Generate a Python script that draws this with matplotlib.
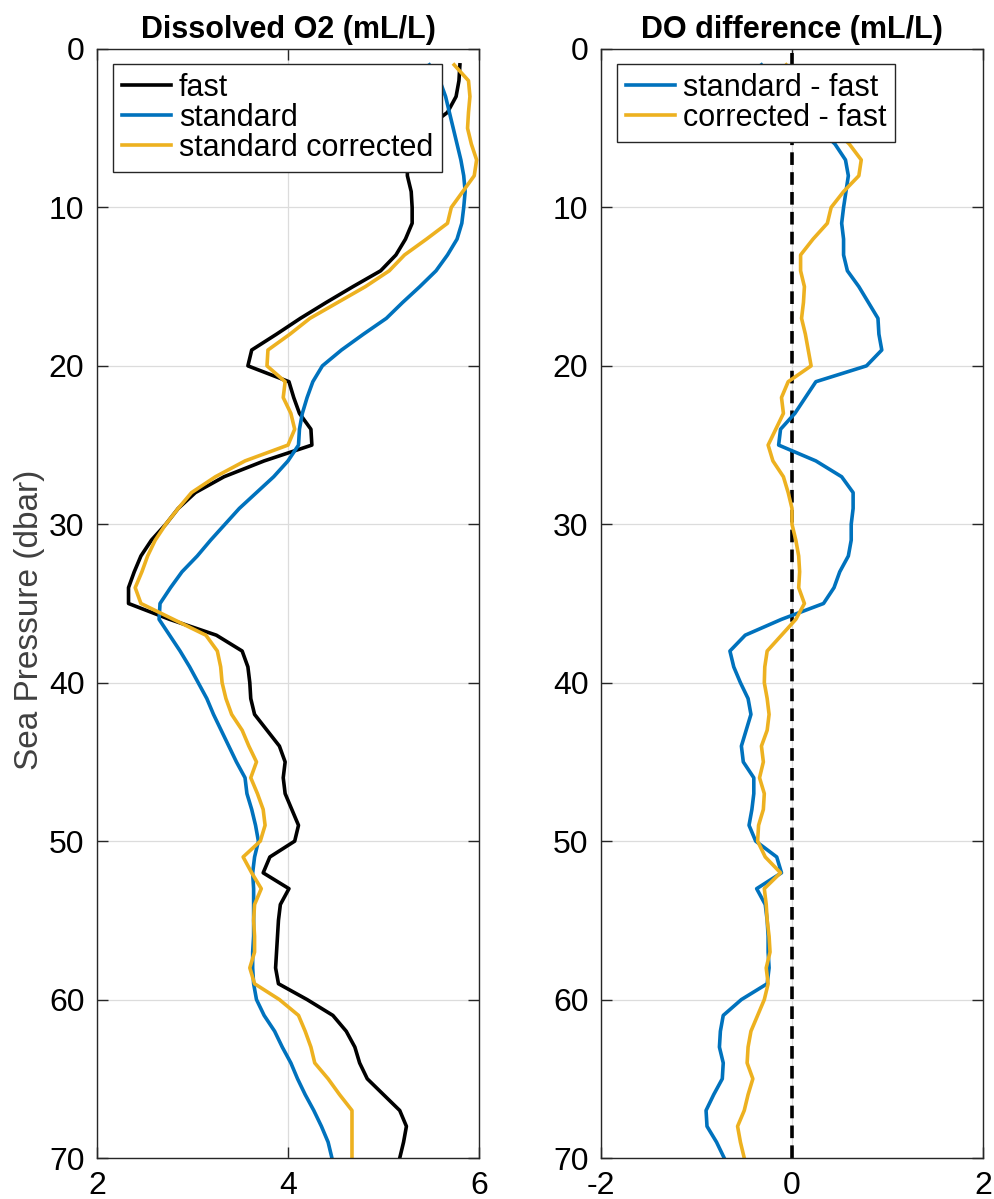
import numpy as np
import matplotlib
matplotlib.use("Agg")
import matplotlib.pyplot as plt

# 1 dbar bins of the downcast
pressure = np.arange(1, 71)

# dissolved oxygen (mL/L) per bin, fast sensor
do_fast = np.array([
    5.80, 5.79, 5.76, 5.67, 5.45, 5.32, 5.25, 5.25, 5.29, 5.30,
    5.30, 5.23, 5.13, 4.97, 4.68, 4.40, 4.13, 3.88, 3.62, 3.58,
    4.01, 4.06, 4.12, 4.24, 4.25, 3.75, 3.33, 3.03, 2.85, 2.72,
    2.57, 2.46, 2.39, 2.33, 2.33, 2.76, 3.25, 3.52, 3.58, 3.60,
    3.61, 3.65, 3.78, 3.91, 3.97, 3.95, 3.97, 4.04, 4.11, 4.07,
    3.81, 3.74, 4.01, 3.92, 3.90, 3.89, 3.88, 3.87, 3.90, 4.20,
    4.47, 4.61, 4.70, 4.75, 4.83, 5.00, 5.17, 5.24, 5.21, 5.17,
])

# standard sensor
do_standard = np.array([
    5.48, 5.59, 5.65, 5.69, 5.73, 5.77, 5.81, 5.84, 5.855, 5.84,
    5.82, 5.77, 5.67, 5.55, 5.38, 5.20, 5.03, 4.79, 4.56, 4.36,
    4.26, 4.20, 4.15, 4.12, 4.11, 4.00, 3.85, 3.67, 3.49, 3.34,
    3.19, 3.05, 2.89, 2.77, 2.66, 2.65, 2.76, 2.87, 2.97, 3.06,
    3.15, 3.22, 3.30, 3.38, 3.46, 3.55, 3.57, 3.62, 3.66, 3.69,
    3.65, 3.63, 3.64, 3.64, 3.64, 3.64, 3.63, 3.63, 3.64, 3.67,
    3.75, 3.86, 3.94, 4.03, 4.10, 4.18, 4.27, 4.35, 4.42, 4.46,
])

# standard sensor after lag correction
do_corrected = np.array([
    5.74, 5.89, 5.905, 5.89, 5.88, 5.92, 5.975, 5.95, 5.83, 5.71,
    5.67, 5.45, 5.22, 5.06, 4.81, 4.52, 4.23, 4.02, 3.79, 3.78,
    3.97, 3.95, 4.03, 4.07, 4.00, 3.55, 3.24, 2.99, 2.85, 2.72,
    2.61, 2.53, 2.47, 2.40, 2.46, 2.80, 3.14, 3.26, 3.295, 3.31,
    3.35, 3.41, 3.52, 3.59, 3.67, 3.61, 3.68, 3.74, 3.76, 3.71,
    3.53, 3.62, 3.72, 3.65, 3.64, 3.65, 3.65, 3.60, 3.65, 3.91,
    4.11, 4.18, 4.24, 4.28, 4.42, 4.54, 4.67, 4.67, 4.67, 4.67,
])

diff_standard = do_standard - do_fast
diff_corrected = do_corrected - do_fast

BLUE = "#0072BD"
GOLD = "#EDB120"
DARK = "#262626"

plt.rcParams["font.family"] = ["Liberation Sans", "DejaVu Sans"]
plt.rcParams["axes.unicode_minus"] = False

fig = plt.figure(figsize=(9.95, 11.99), dpi=100)
ax1 = fig.add_axes([97 / 995, 41 / 1199, 382 / 995, 1109 / 1199])
ax2 = fig.add_axes([601 / 995, 41 / 1199, 382 / 995, 1109 / 1199])


def style_axes(ax):
    ax.set_ylim(70, 0)
    ax.set_yticks(np.arange(0, 71, 10))
    ax.grid(True, color="#dcdcdc", linewidth=0.9)
    ax.set_axisbelow(True)
    ax.tick_params(direction="in", length=8, width=1.0, color=DARK,
                   labelsize=23, labelcolor="black", pad=9,
                   top=True, right=True)
    for s in ax.spines.values():
        s.set_color(DARK)
        s.set_linewidth(1.0)


# left: oxygen profiles
ax1.plot(do_fast, pressure, color="black", lw=2.6, label="fast")
ax1.plot(do_standard, pressure, color=BLUE, lw=2.6, label="standard")
ax1.plot(do_corrected, pressure, color=GOLD, lw=2.6, label="standard corrected")
ax1.set_xlim(2, 6)
ax1.set_xticks([2, 4, 6])
style_axes(ax1)
ax1.set_title("Dissolved O2 (mL/L)", fontsize=22, fontweight="bold", pad=8)
ax1.set_ylabel("Sea Pressure (dbar)", fontsize=24, color="#404040")
ax1.yaxis.set_label_coords(-0.135, 0.485)

# right: differences from the fast sensor
ax2.axvline(0, color="black", lw=2.6, linestyle=(0, (3.5, 2)), zorder=1)
ax2.plot(diff_standard, pressure, color=BLUE, lw=2.6, label="standard - fast")
ax2.plot(diff_corrected, pressure, color=GOLD, lw=2.6, label="corrected - fast")
ax2.set_xlim(-2, 2)
ax2.set_xticks([-2, 0, 2])
style_axes(ax2)
ax2.set_title("DO difference (mL/L)", fontsize=22, fontweight="bold", pad=8)

for ax in (ax1, ax2):
    leg = ax.legend(loc="upper left", bbox_to_anchor=(0.042, 0.9865),
                    borderaxespad=0, fontsize=22, handlelength=1.6,
                    handletextpad=0.25, borderpad=0.3, labelspacing=0.0,
                    fancybox=False, framealpha=1, edgecolor=DARK)
    leg.get_frame().set_linewidth(1.0)

fig.savefig("out.png", dpi=100)
